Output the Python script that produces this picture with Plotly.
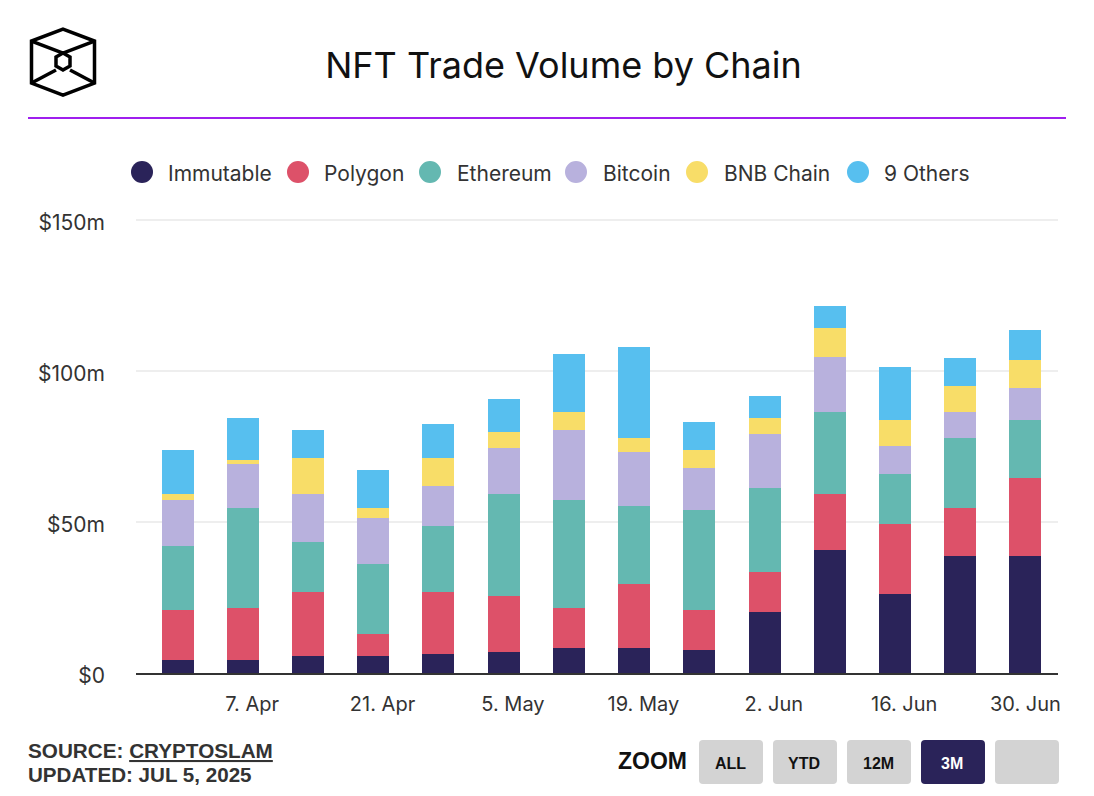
from __future__ import annotations

from datetime import timedelta

import pandas as pd
import plotly.graph_objects as go

# weekly trade volume in $m
weeks = pd.date_range("2025-03-31", periods=14, freq="7D")
immutable = [4.4, 4.4, 5.7, 5.7, 6.4, 7.0, 8.4, 8.4, 7.7, 20.3, 40.7, 26.2, 38.8, 38.8]
polygon = [16.5, 17.2, 21.1, 7.3, 20.5, 18.5, 13.2, 21.1, 13.2, 13.2, 18.5, 23.1, 15.9, 25.8]
ethereum = [21.1, 33.0, 16.5, 23.1, 21.8, 33.7, 35.7, 25.8, 33.0, 27.8, 27.1, 16.5, 23.1, 19.2]
bitcoin = [15.2, 14.5, 15.9, 15.2, 13.2, 15.2, 23.1, 17.8, 13.9, 17.8, 18.5, 9.3, 8.6, 10.6]
bnb_chain = [2.0, 1.3, 11.9, 3.3, 9.3, 5.3, 5.9, 4.6, 5.9, 5.3, 9.3, 8.6, 8.6, 9.3]
others = [14.5, 13.9, 9.3, 12.6, 11.2, 11.2, 19.2, 30.4, 9.3, 7.3, 7.3, 17.8, 9.3, 9.9]

series = [
    ("Immutable", immutable, "#2a2359"),
    ("Polygon", polygon, "#dd5169"),
    ("Ethereum", ethereum, "#64b8b1"),
    ("Bitcoin", bitcoin, "#b8b1dd"),
    ("BNB Chain", bnb_chain, "#f8dd68"),
    ("9 Others", others, "#57bfef"),
]

y_ticks = [0, 50, 100, 150]
y_labels = ["$0", "$50m", "$100m", "$150m"]
# last label sits a day early in the original so it fits inside the frame
x_ticks = ["2025-04-07", "2025-04-21", "2025-05-05", "2025-05-19", "2025-06-02", "2025-06-16", "2025-06-29"]
x_labels = ["7. Apr", "21. Apr", "5. May", "19. May", "2. Jun", "16. Jun", "30. Jun"]

WIDTH, HEIGHT = 1094, 796
# y range runs a little past 150 so plotly keeps the top gridline
Y_MAX = 152
LEFT, RIGHT, BOTTOM = 136, 1058, 673
TOP = BOTTOM - Y_MAX * 453 / 150
DARK = "#333333"
TEXT_FONT = "Inter"
FOOT_FONT = "Liberation Sans"
DAY_MS = timedelta(days=1).total_seconds() * 1000
BAR_MS = 3.434 * DAY_MS


def px(x: float) -> float:
    return (x - LEFT) / (RIGHT - LEFT)


def py(y: float) -> float:
    return (BOTTOM - y) / (BOTTOM - TOP)


def line_path(points: list[tuple[float, float]], closed: bool = False) -> str:
    path = "M " + " L ".join(f"{px(x):.5f},{py(y):.5f}" for x, y in points)
    return path + " Z" if closed else path


def label(text: str, x: float, y: float, size: float, color: str = DARK, font: str = TEXT_FONT, anchor: str = "left") -> dict:
    return dict(
        text=text, x=px(x), y=py(y), xref="paper", yref="paper", xanchor=anchor, yanchor="middle",
        showarrow=False, font=dict(family=font, size=size, color=color),
    )


fig = go.Figure()
for name, values, color in series:
    fig.add_trace(
        go.Bar(
            name=name, x=weeks, y=values, marker=dict(color=color, line=dict(width=0)),
            width=BAR_MS, offset=-BAR_MS / 2 - DAY_MS, showlegend=False,
        )
    )

shapes: list[dict] = []
annotations: list[dict] = []

# logo
logo_paths = [
    [(63, 29), (94.5, 41), (94.5, 83), (63, 95), (31.5, 83), (31.5, 41)],
    [(63, 53), (70, 57), (70, 66), (63, 70), (56, 66), (56, 57)],
]
logo_spokes = [
    [(31.5, 41), (63, 53)], [(94.5, 41), (63, 53)],
    [(31.5, 83), (56, 70)], [(94.5, 83), (70, 70)],
]
for points in logo_paths:
    shapes.append(dict(type="path", xref="paper", yref="paper", path=line_path(points, True), line=dict(color="#000000", width=3.5)))
for points in logo_spokes:
    shapes.append(dict(type="path", xref="paper", yref="paper", path=line_path(points), line=dict(color="#000000", width=3.5)))

# rule under the title
shapes.append(dict(type="line", xref="paper", yref="paper", x0=px(28), x1=px(1066), y0=py(118), y1=py(118), line=dict(color="#9f1fee", width=2)))

# legend, circles are bigger than what the plotly legend can draw
legend_x = [(142, 166), (298, 322), (430, 455), (576, 601), (697, 722), (858, 882)]
for (name, _, color), (dot_x, text_x) in zip(series, legend_x):
    shapes.append(dict(type="circle", xref="paper", yref="paper", x0=px(dot_x - 11), x1=px(dot_x + 11), y0=py(183), y1=py(161), fillcolor=color, line=dict(width=0)))
    annotations.append(label(name, text_x, 173, 21))

# footer
annotations.append(label("<b>SOURCE: <u>CRYPTOSLAM</u></b>", 26, 751, 20.7, font=FOOT_FONT))
annotations.append(label("<b>UPDATED: JUL 5, 2025</b>", 26, 775, 20.6, font=FOOT_FONT))
annotations.append(label("<b>ZOOM</b>", 616, 761, 23, color="#111111", font=FOOT_FONT))

buttons = [("ALL", 699), ("YTD", 773), ("12M", 847), ("3M", 921), ("", 995)]
for text, x in buttons:
    active = text == "3M"
    x0, x1, y0, y1, r = x, x + 64, 740, 784, 4
    path = (
        f"M {px(x0 + r):.5f},{py(y0):.5f} L {px(x1 - r):.5f},{py(y0):.5f} Q {px(x1):.5f},{py(y0):.5f} {px(x1):.5f},{py(y0 + r):.5f} "
        f"L {px(x1):.5f},{py(y1 - r):.5f} Q {px(x1):.5f},{py(y1):.5f} {px(x1 - r):.5f},{py(y1):.5f} "
        f"L {px(x0 + r):.5f},{py(y1):.5f} Q {px(x0):.5f},{py(y1):.5f} {px(x0):.5f},{py(y1 - r):.5f} "
        f"L {px(x0):.5f},{py(y0 + r):.5f} Q {px(x0):.5f},{py(y0):.5f} {px(x0 + r):.5f},{py(y0):.5f} Z"
    )
    shapes.append(dict(type="path", xref="paper", yref="paper", path=path, fillcolor="#2a2359" if active else "#d3d3d3", line=dict(width=0)))
    if text:
        annotations.append(label(f"<b>{text}</b>", x + 31, 764, 16, color="#ffffff" if active else "#111111", font=FOOT_FONT, anchor="center"))

fig.update_layout(
    width=WIDTH,
    height=HEIGHT,
    margin=dict(l=LEFT, r=WIDTH - RIGHT, t=TOP, b=HEIGHT - BOTTOM, pad=0),
    barmode="stack",
    paper_bgcolor="#ffffff",
    plot_bgcolor="#ffffff",
    title=dict(
        text="NFT Trade Volume by Chain", x=563.5 / WIDTH, xref="container", xanchor="center",
        y=1 - 65 / HEIGHT, yref="container", yanchor="middle",
        font=dict(family=TEXT_FONT, size=36, color="#111111"),
    ),
    shapes=shapes,
    annotations=annotations,
)
fig.update_xaxes(
    type="date",
    range=["2025-03-25 13:00", "2025-07-02 12:00"],
    tickmode="array",
    tickvals=x_ticks,
    ticktext=x_labels,
    ticks="",
    ticklabelstandoff=12,
    showgrid=False,
    showline=True,
    linecolor=DARK,
    linewidth=2,
    zeroline=False,
    tickfont=dict(family=TEXT_FONT, size=20, color=DARK),
)
fig.update_yaxes(
    range=[0, Y_MAX],
    tickmode="array",
    tickvals=y_ticks,
    ticktext=y_labels,
    ticks="",
    ticklabelstandoff=30,
    ticklabelshift=3,
    showgrid=True,
    gridcolor="#eeeeee",
    gridwidth=2,
    zeroline=False,
    showline=False,
    tickfont=dict(family=TEXT_FONT, size=21, color=DARK),
)

fig.write_html("out.html", config={"displayModeBar": False}, post_script="document.body.style.margin='0';")
